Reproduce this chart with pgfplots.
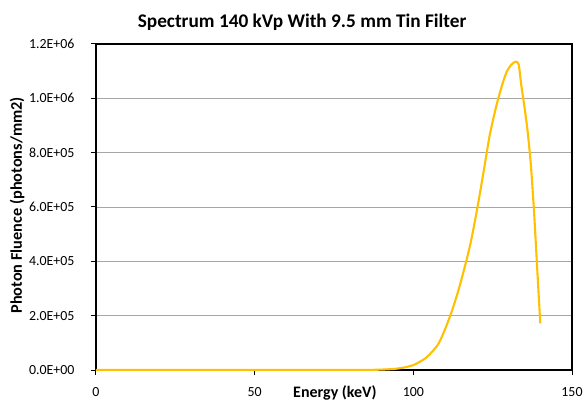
\documentclass[border=0pt]{standalone}
\usepackage{fontspec}
\setmainfont{Carlito}
\usepackage{pgfplots}
\pgfplotsset{compat=1.18}
\definecolor{gold}{HTML}{FFC000}
\definecolor{gridgray}{HTML}{A6A6A6}

\pgfplotstableread{
E      phi
0      0
20     0
40     0
60     0
80     0
86     300
90     1500
94     4000
97     9000
100    18000
102    30000
104    45000
106    68000
108    98000
110    150000
112    212000
114    285000
116    370000
118    465000
120    585000
122    720000
124    860000
126    965000
128    1050000
129.5  1100000
131    1125000
132.2  1135000
133.2  1125000
134    1050000
135    970000
136    880000
137    760000
138    590000
139    380000
140    172000
}\spectrum

\begin{document}
\begin{tikzpicture}
\begin{axis}[
  scale only axis,
  width=476bp, height=326bp,
  xmin=0, xmax=150, ymin=0, ymax=1.2e6,
  xtick={0,50,100,150},
  ytick={0,2e5,4e5,6e5,8e5,1e6,1.2e6},
  yticklabels={0.0E+00,2.0E+05,4.0E+05,6.0E+05,8.0E+05,1.0E+06,1.2E+06},
  scaled y ticks=false,
  /pgf/number format/assume math mode=true,
  tick align=outside,
  major tick length=5bp,
  xtick pos=bottom, ytick pos=left,
  tick style={black, line width=1bp},
  axis line style={black, line width=1.2bp},
  ymajorgrids,
  grid style={gridgray, line width=0.75bp},
  tick label style={font=\fontsize{13.9bp}{16bp}\selectfont},
  xticklabel style={yshift=-9bp},
  yticklabel style={xshift=-13bp},
  title={Spectrum 140 kVp With 9.5 mm Tin Filter},
  title style={font=\bfseries\fontsize{19.3bp}{22bp}\selectfont, at={(rel axis cs:0.433,1)}, anchor=center, yshift=16bp},
  xlabel={Energy (keV)},
  xlabel style={font=\bfseries\fontsize{16bp}{18bp}\selectfont, at={(rel axis cs:0.502,0)}, anchor=center, yshift=-23bp},
  ylabel={Photon Fluence (photons/mm2)},
  ylabel style={font=\bfseries\fontsize{16.3bp}{18bp}\selectfont, at={(rel axis cs:-0.166,0.505)}, anchor=center},
]
\addplot[color=gold, line width=2.1bp, smooth, tension=0.4] table[x=E, y=phi] {\spectrum};
\end{axis}
\pgfresetboundingbox
\path (current axis.south west) ++(-96bp,-31bp) rectangle ++(585bp,401bp);
\end{tikzpicture}
\end{document}
